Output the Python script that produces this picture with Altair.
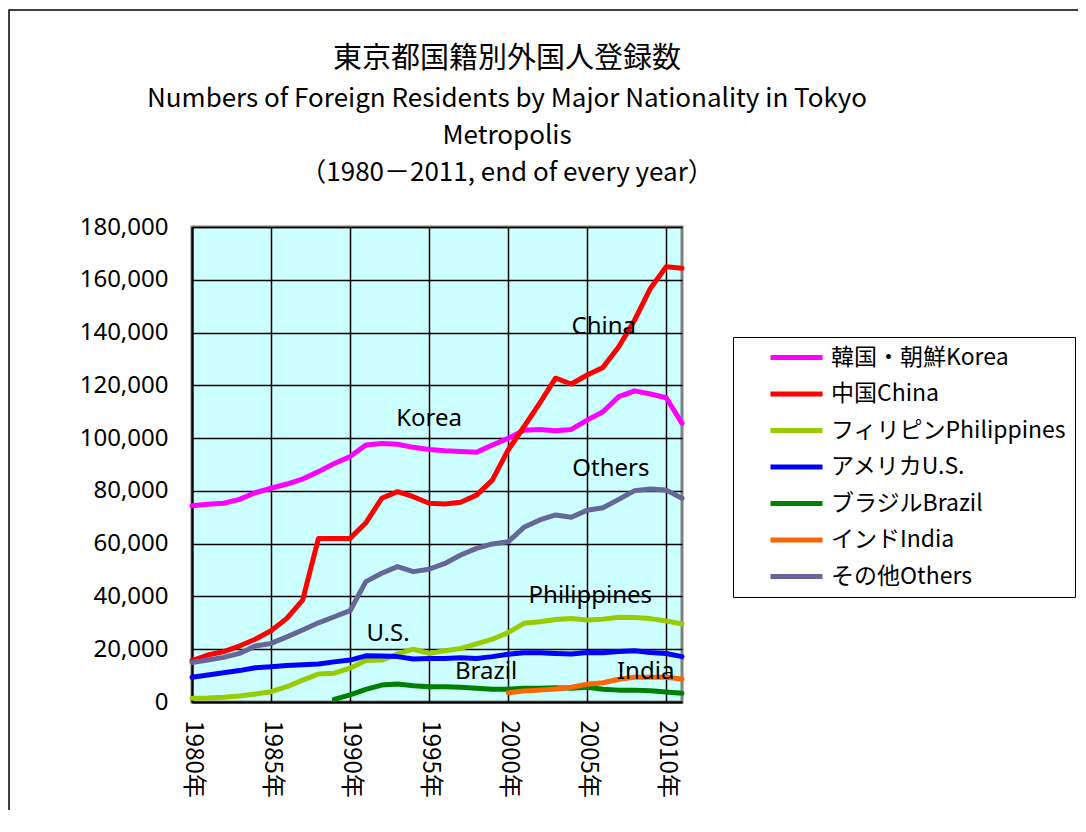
import altair as alt
import pandas as pd

years = list(range(1980, 2012))

series_names = ["韓国・朝鮮Korea", "中国China", "フィリピンPhilippines", "アメリカU.S.",
                "ブラジルBrazil", "インドIndia", "その他Others"]
series_colors = ["#FF00FF", "#FF0000", "#99CC00", "#0000FF", "#008000", "#FF6600", "#666699"]

korea = [74400, 74900, 75300, 76800, 79300, 81000, 82600, 84500, 87300, 90400, 93000, 97400,
         98000, 97700, 96500, 95700, 95200, 94900, 94600, 97400, 99900, 103000, 103300, 102800,
         103300, 106800, 110000, 115700, 117900, 116700, 115300, 105600]
china = [15700, 17800, 19100, 21200, 23800, 27000, 31700, 38600, 62000, 62000, 62000, 67900,
         77200, 79700, 77800, 75300, 75000, 75700, 78400, 84100, 95500, 104300, 113300, 122700,
         120500, 123900, 126800, 134600, 144700, 156700, 164900, 164400]
philippines = [1400, 1500, 1800, 2300, 3000, 3900, 5800, 8300, 10600, 10900, 12800, 15700,
               15900, 18200, 20000, 18400, 19400, 20300, 22000, 23800, 26300, 29800, 30400, 31300,
               31600, 31100, 31400, 32100, 32000, 31600, 30700, 29600]
us = [9400, 10200, 11100, 11900, 13000, 13400, 13800, 14100, 14400, 15200, 15900, 17500,
      17400, 17200, 16300, 16500, 16500, 16800, 16500, 17200, 18100, 18700, 18700, 18400,
      18200, 18800, 18700, 19100, 19400, 18800, 18400, 17200]
brazil_years = list(range(1989, 2012))
brazil = [1000, 2700, 4800, 6400, 6800, 6200, 5800, 5800, 5600, 5200, 4800, 4800, 5200, 5200,
          5400, 5200, 5600, 4800, 4500, 4500, 4300, 3800, 3300]
india_years = list(range(2000, 2012))
india = [3500, 4200, 4500, 4900, 5600, 6700, 7300, 8600, 9400, 9400, 9400, 8700]
others = [15000, 15900, 16900, 18400, 21200, 22200, 24700, 27300, 30000, 32300, 34600, 45600,
          48800, 51300, 49400, 50300, 52500, 55700, 58200, 59900, 60700, 66200, 69000, 70900,
          70000, 72700, 73600, 76800, 80100, 80700, 80300, 77200]

x_ticks = [1980, 1985, 1990, 1995, 2000, 2005, 2010]
y_ticks = list(range(0, 180001, 20000))

label_texts = ["Korea", "China", "Others", "Philippines", "U.S.", "Brazil", "India"]
label_years = [1995.0, 2006.05, 2006.5, 2005.2, 1992.4, 1998.6, 2008.7]
label_values = [107400, 142100, 88300, 40200, 25800, 11400, 11400]

rows = []
for name, xs, vals in [
    (series_names[0], years, korea),
    (series_names[1], years, china),
    (series_names[2], years, philippines),
    (series_names[3], years, us),
    (series_names[4], brazil_years, brazil),
    (series_names[5], india_years, india),
    (series_names[6], years, others),
]:
    order = series_names.index(name)
    for x, v in zip(xs, vals):
        rows.append({"series": name, "year": x, "value": v, "order": order})
df = pd.DataFrame(rows)

labels_df = pd.DataFrame({"text": label_texts, "year": label_years, "value": label_values})

LATIN = "'Noto Sans', 'Noto Sans CJK JP', sans-serif"
CJK = "'Noto Sans CJK JP', 'Noto Sans', sans-serif"

x_enc = alt.X("year:Q",
              scale=alt.Scale(domain=[1980, 2011], nice=False, zero=False),
              axis=alt.Axis(values=x_ticks, labelExpr="datum.value + '年'", labelAngle=90,
                            labelPadding=18, title=None, ticks=False, tickSize=0,
                            labelFont=CJK, labelFontSize=24, labelColor="black",
                            domainColor="black", domainWidth=2,
                            gridColor="black", gridWidth=1.5, gridOpacity=1))
y_enc = alt.Y("value:Q",
              scale=alt.Scale(domain=[0, 180000], nice=False),
              axis=alt.Axis(values=y_ticks, format=",d", labelPadding=24, title=None,
                            ticks=False, tickSize=0, labelFont=LATIN, labelFontSize=24,
                            labelColor="black", domainColor="black", domainWidth=2,
                            gridColor="black", gridWidth=1.5, gridOpacity=1))

lines = alt.Chart(df).mark_line(strokeWidth=5, strokeCap="round", strokeJoin="round").encode(
    x=x_enc,
    y=y_enc,
    color=alt.Color("series:N",
                    scale=alt.Scale(domain=series_names, range=series_colors),
                    sort=series_names,
                    legend=alt.Legend(title=None, orient="none", legendX=541, legendY=110,
                                      symbolType="M-2.6,0L2.6,0", symbolSize=400,
                                      symbolStrokeWidth=5, symbolOffset=43, labelOffset=22,
                                      padding=8, rowPadding=11.5, labelFontSize=23,
                                      labelFont=CJK, labelColor="black",
                                      labelExpr="datum.label + '      '",
                                      strokeColor="black", fillColor="white",
                                      labelLimit=600)),
    order=alt.Order("order:Q"),
)

texts = alt.Chart(labels_df).mark_text(fontSize=24, font=LATIN, color="black",
                                       align="center", baseline="middle").encode(
    x=x_enc,
    y=y_enc,
    text="text:N",
)

frame = alt.Chart(alt.Data(values=[{}])).mark_rect(
    fill=None, stroke="black", strokeWidth=1.5, clip=False
).encode(
    x=alt.value(-183), y=alt.value(-217), x2=alt.value(950), y2=alt.value(700)
)

chart = alt.layer(frame, lines, texts).properties(
    width=490,
    height=475,
    autosize=alt.AutoSizeParams(type="none"),
    padding={"left": 184, "top": 219, "right": 396, "bottom": 108},
    background="white",
    title=alt.Title(
        text="東京都国籍別外国人登録数",
        subtitle=["Numbers of Foreign Residents by Major Nationality in Tokyo",
                  "Metropolis",
                  "（1980－2011, end of every year）"],
        anchor="middle", dx=70, dy=205, offset=28, frame="group",
        font=CJK, fontSize=29, fontWeight="normal", color="black",
        subtitleFont=CJK, subtitleFontSize=26, subtitleColor="black",
        subtitleLineHeight=37, subtitlePadding=12,
    ),
).configure_view(
    fill="#CCFFFF", stroke="#808080", strokeWidth=3
).configure_axis(
    domainColor="black", domainWidth=2, gridColor="black", gridWidth=1.5,
    labelColor="black", gridOpacity=1
)

chart.save("out.html", embed_options={"renderer": "svg", "actions": False})
